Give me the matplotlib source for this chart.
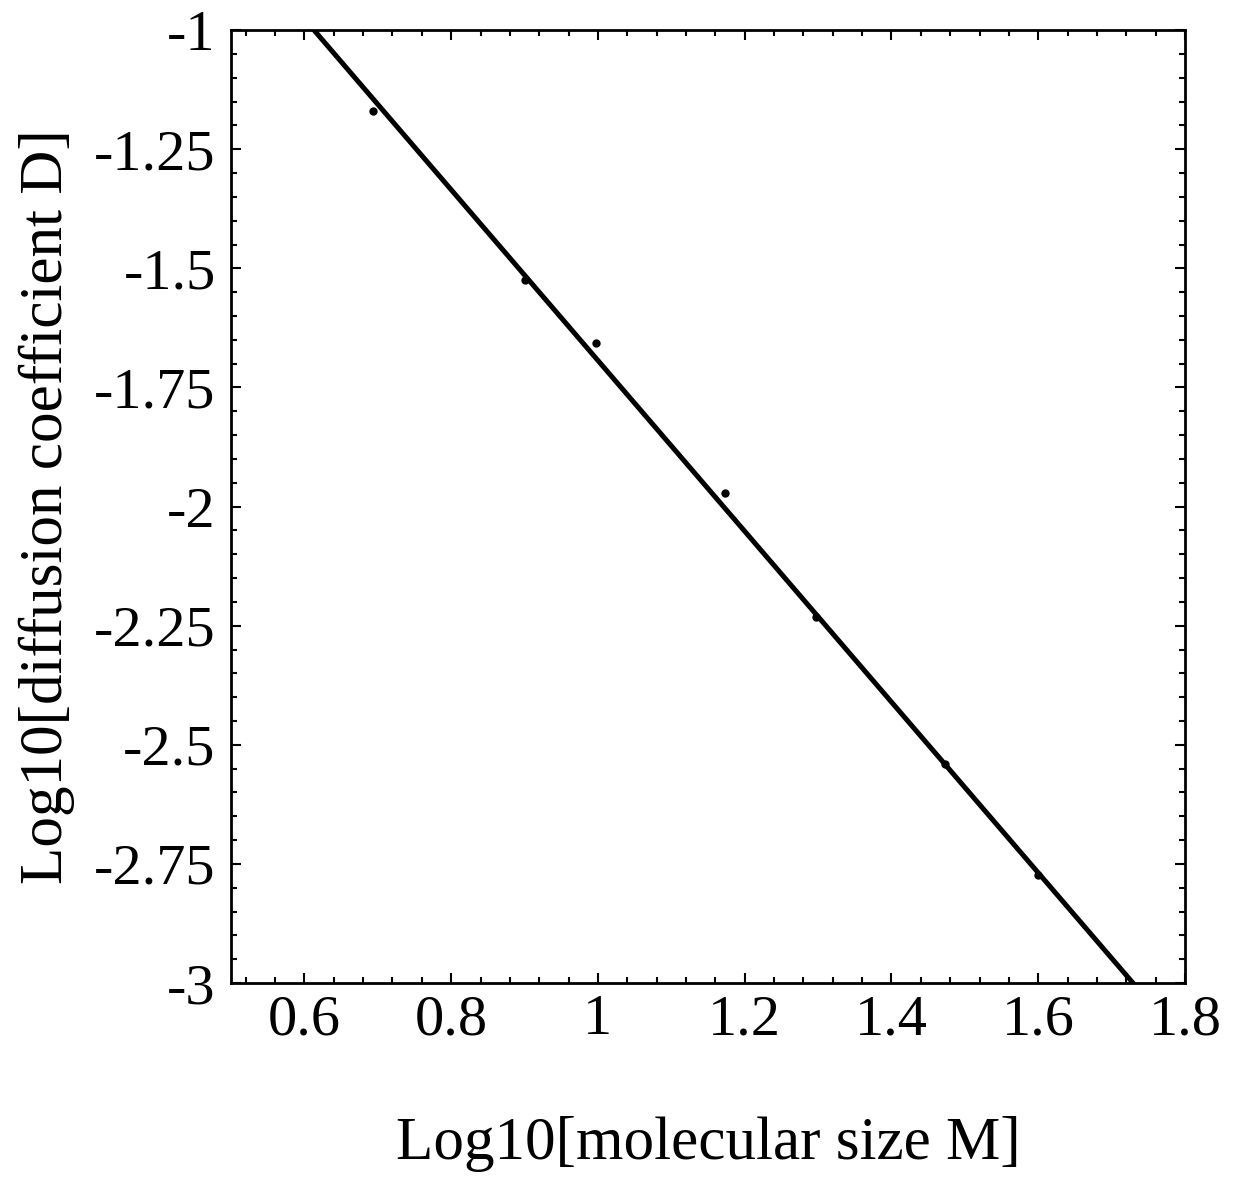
import numpy as np
import matplotlib.pyplot as plt
from matplotlib.ticker import MultipleLocator

plt.rcParams['font.family'] = ['Liberation Serif', 'DejaVu Serif']

# measured points (log10 M, log10 D)
log_m = [0.693, 0.900, 0.997, 1.173, 1.297, 1.473, 1.599]
log_d = [-1.170, -1.524, -1.656, -1.972, -2.231, -2.541, -2.774]

# fitted straight line
fit_slope = -1.792
fit_intercept = 0.0986

x_ticks = [0.6, 0.8, 1.0, 1.2, 1.4, 1.6, 1.8]
x_labels = ["0.6", "0.8", "1", "1.2", "1.4", "1.6", "1.8"]
y_ticks = [-1, -1.25, -1.5, -1.75, -2, -2.25, -2.5, -2.75, -3]
y_labels = ["-1", "-1.25", "-1.5", "-1.75", "-2", "-2.25", "-2.5", "-2.75", "-3"]

fig = plt.figure(figsize=(12.38, 11.8), dpi=100)
ax = fig.add_axes([0.1866, 0.1669, 0.7706, 0.8076])

xx = np.linspace(0.5, 1.8, 200)
ax.plot(xx, fit_slope * xx + fit_intercept, color="black", lw=3.6, solid_capstyle="butt")
ax.plot(log_m, log_d, "o", color="black", ms=5)

ax.set_xlim(0.5, 1.8)
ax.set_ylim(-3, -1)
ax.set_xticks(x_ticks)
ax.set_xticklabels(x_labels)
ax.set_yticks(y_ticks)
ax.set_yticklabels(y_labels)
ax.xaxis.set_minor_locator(MultipleLocator(0.04))
ax.yaxis.set_minor_locator(MultipleLocator(0.05))

ax.tick_params(which="both", direction="in", top=True, right=True, width=1.5, colors="black")
ax.tick_params(which="major", length=7, labelsize=42)
ax.tick_params(axis="x", which="major", pad=8)
ax.tick_params(axis="y", which="major", pad=11)
ax.tick_params(which="minor", length=4)
for s in ax.spines.values():
    s.set_linewidth(2)

ax.set_xlabel("Log10[molecular size M]", fontsize=44, labelpad=50)
ax.set_ylabel("Log10[diffusion coefficient D]", fontsize=44, labelpad=14)

fig.savefig("out.png", dpi=100)
